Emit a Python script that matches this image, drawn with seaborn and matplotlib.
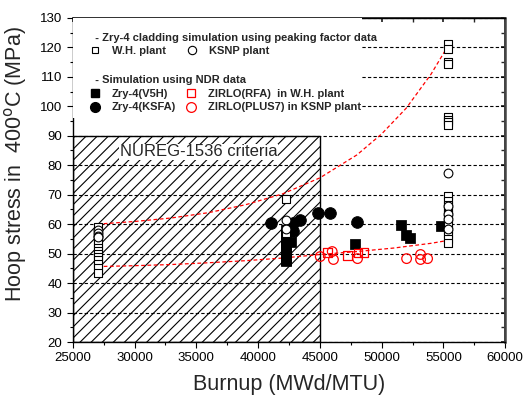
import matplotlib
matplotlib.use('Agg')
import matplotlib.pyplot as plt
import matplotlib.patches as mpatches
from matplotlib.lines import Line2D
from matplotlib.ticker import MultipleLocator
import seaborn as sns

# W.H. plant (open black squares)
wh_burnup = [27050] * 13 + [42300] * 3 + [55350] * 19
wh_stress = [59, 57.5, 56, 55, 53.5, 52, 51, 50, 49, 48, 46.5, 45, 43.5,
             68.5, 58.5, 57,
             121, 119.5, 115, 114.5, 96.5, 95.5, 94.5, 93.5, 69.5, 68, 66.5,
             65, 63.5, 62, 60, 58, 56.5, 55, 53.5]

# KSNP plant (open black circles)
ksnp_burnup = [27050] * 4 + [42300] * 2 + [55350] * 5
ksnp_stress = [58, 57, 56, 55.5, 61.3, 58.5, 77.3, 66, 63.5, 61.6, 58.2]

# Zry-4(V5H) filled squares
v5h_burnup = [42300] * 11 + [42700, 47850, 51570, 51980, 52300, 54810]
v5h_stress = [58, 56.5, 55, 54, 53, 52, 51, 50, 49, 48, 47.5,
              54, 53.3, 59.7, 56.3, 55.3, 59.4]

# Zry-4(KSFA) filled circles
ksfa_burnup = [41040, 42820, 43390, 42820, 44850, 45820, 48000]
ksfa_stress = [60.4, 60.4, 61.4, 57.7, 63.8, 63.8, 60.7]

# ZIRLO(RFA) red squares
rfa_burnup = [45600, 47250, 48100, 48560]
rfa_stress = [50.3, 49.4, 50.2, 50.4]

# ZIRLO(PLUS7) red circles
plus7_burnup = [45030, 46000, 46100, 48050, 52020, 53150, 53150, 53720]
plus7_stress = [49, 50.7, 48, 48.3, 48.3, 49.7, 48, 48.3]

# red dashed trend curves
upper_burnup = [27000, 30000, 33000, 36000, 39000, 42000, 45000, 48000,
                50000, 52000, 54000, 55300]
upper_stress = [60.0, 60.9, 62.1, 63.9, 66.6, 70.3, 75.7, 83.5,
                90.6, 99.4, 110.9, 120.0]
lower_burnup = [27000, 30000, 33000, 36000, 39000, 42000, 45000, 48000,
                51000, 54000, 55400]
lower_stress = [45.6, 45.9, 46.3, 46.9, 47.6, 48.5, 49.7, 50.7,
                51.9, 53.5, 54.5]

sns.set_theme(style='white')
plt.rcParams['font.family'] = ['Liberation Sans', 'DejaVu Sans']
plt.rcParams['hatch.linewidth'] = 0.8

fig = plt.figure(figsize=(5.29, 3.97), dpi=100)
ax = fig.add_axes([0.1375, 0.1385, 0.8175, 0.8165])

# criteria box
ax.add_patch(mpatches.Rectangle((25000, 20), 20000, 70, facecolor='none',
                                edgecolor='black', hatch='///', linewidth=1.0, zorder=1))
ax.text(28800, 84.5, 'NUREG-1536 criteria', fontsize=12, va='center', ha='left',
        zorder=6, bbox=dict(facecolor='white', edgecolor='none', pad=0.5))

ax.set_xlim(25000, 60000)
ax.set_ylim(20, 130)
ax.yaxis.grid(True, linestyle=(0, (3, 2)), color='black', linewidth=0.8, zorder=0)
ax.set_axisbelow(True)

sns.lineplot(x=upper_burnup, y=upper_stress, ax=ax, color='red', linestyle=(0, (3, 2)),
             linewidth=0.9, zorder=3)
sns.lineplot(x=lower_burnup, y=lower_stress, ax=ax, color='red', linestyle=(0, (3, 2)),
             linewidth=0.9, zorder=3)

sns.scatterplot(x=v5h_burnup, y=v5h_stress, ax=ax, marker='s', s=45, color='black',
                edgecolor='black', zorder=4)
sns.scatterplot(x=ksfa_burnup, y=ksfa_stress, ax=ax, marker='o', s=70, color='black',
                edgecolor='black', zorder=4)
sns.scatterplot(x=wh_burnup, y=wh_stress, ax=ax, marker='s', s=28, facecolor='white',
                edgecolor='black', linewidth=0.8, zorder=5)
sns.scatterplot(x=ksnp_burnup, y=ksnp_stress, ax=ax, marker='o', s=40, facecolor='white',
                edgecolor='black', linewidth=0.8, zorder=5)
sns.scatterplot(x=rfa_burnup, y=rfa_stress, ax=ax, marker='s', s=38, facecolor='none',
                edgecolor='red', linewidth=0.9, zorder=5)
sns.scatterplot(x=plus7_burnup, y=plus7_stress, ax=ax, marker='o', s=48, facecolor='none',
                edgecolor='red', linewidth=0.9, zorder=5)

# white area behind legend
ax.add_patch(mpatches.Rectangle((0, 0.69), 0.669, 0.31, transform=ax.transAxes,
                                facecolor='white', edgecolor='none', zorder=6))

common = dict(loc='upper left', frameon=False, alignment='left',
              prop={'weight': 'bold', 'size': 8},
              title_fontproperties={'weight': 'bold', 'size': 8},
              handletextpad=1.0, handlelength=1.0, borderpad=0.45, borderaxespad=0,
              labelspacing=0.32)

h1 = [Line2D([], [], marker='s', ls='none', mfc='white', mec='black', ms=5, mew=0.8),
      Line2D([], [], marker='o', ls='none', mfc='white', mec='black', ms=6, mew=0.8)]
leg1 = ax.legend(h1, ['W.H. plant', 'KSNP plant'], ncol=2,
                 bbox_to_anchor=(0.027, 0.970),
                 title='  - Zry-4 cladding simulation using peaking factor data',
                 columnspacing=1.9, **common)
leg1.set_zorder(7)
ax.add_artist(leg1)

h2 = [Line2D([], [], marker='s', ls='none', mfc='black', mec='black', ms=6),
      Line2D([], [], marker='o', ls='none', mfc='black', mec='black', ms=7),
      Line2D([], [], marker='s', ls='none', mfc='white', mec='red', ms=6, mew=0.9),
      Line2D([], [], marker='o', ls='none', mfc='white', mec='red', ms=7, mew=0.9)]
leg2 = ax.legend(h2, ['Zry-4(V5H)', 'Zry-4(KSFA)', 'ZIRLO(RFA)  in W.H. plant',
                      'ZIRLO(PLUS7) in KSNP plant'],
                 ncol=2, bbox_to_anchor=(0.027, 0.838),
                 title='  - Simulation using NDR data', columnspacing=0.9, **common)
leg2.set_zorder(7)

ax.xaxis.set_major_locator(MultipleLocator(5000))
ax.xaxis.set_minor_locator(MultipleLocator(2500))
ax.yaxis.set_major_locator(MultipleLocator(10))
ax.yaxis.set_minor_locator(MultipleLocator(5))
ax.tick_params(which='both', direction='out', left=True, bottom=True, labelsize=9.5,
               colors='black')
ax.tick_params(which='major', length=4, width=0.8)
ax.tick_params(which='minor', length=2.5, width=0.8)

top = ax.secondary_xaxis('top')
top.xaxis.set_major_locator(MultipleLocator(5000))
top.xaxis.set_minor_locator(MultipleLocator(2500))
top.tick_params(which='both', direction='in', length=3, labeltop=False)
right = ax.secondary_yaxis('right')
right.yaxis.set_major_locator(MultipleLocator(10))
right.yaxis.set_minor_locator(MultipleLocator(5))
right.tick_params(which='both', direction='in', length=3, labelright=False)

for sp in ax.spines.values():
    sp.set_color('black')
    sp.set_linewidth(1.0)
ax.spines['right'].set_linewidth(1.8)
ax.spines['right'].set_color('#444444')

ax.set_xlabel('Burnup (MWd/MTU)', fontsize=15.5, labelpad=7)
ax.set_ylabel(r'Hoop stress in  400$^{\mathrm{o}}$C (MPa)', fontsize=15.5)
ax.yaxis.set_label_coords(-0.10, 0.548)

plt.savefig('out.png', dpi=100)
plt.close()
